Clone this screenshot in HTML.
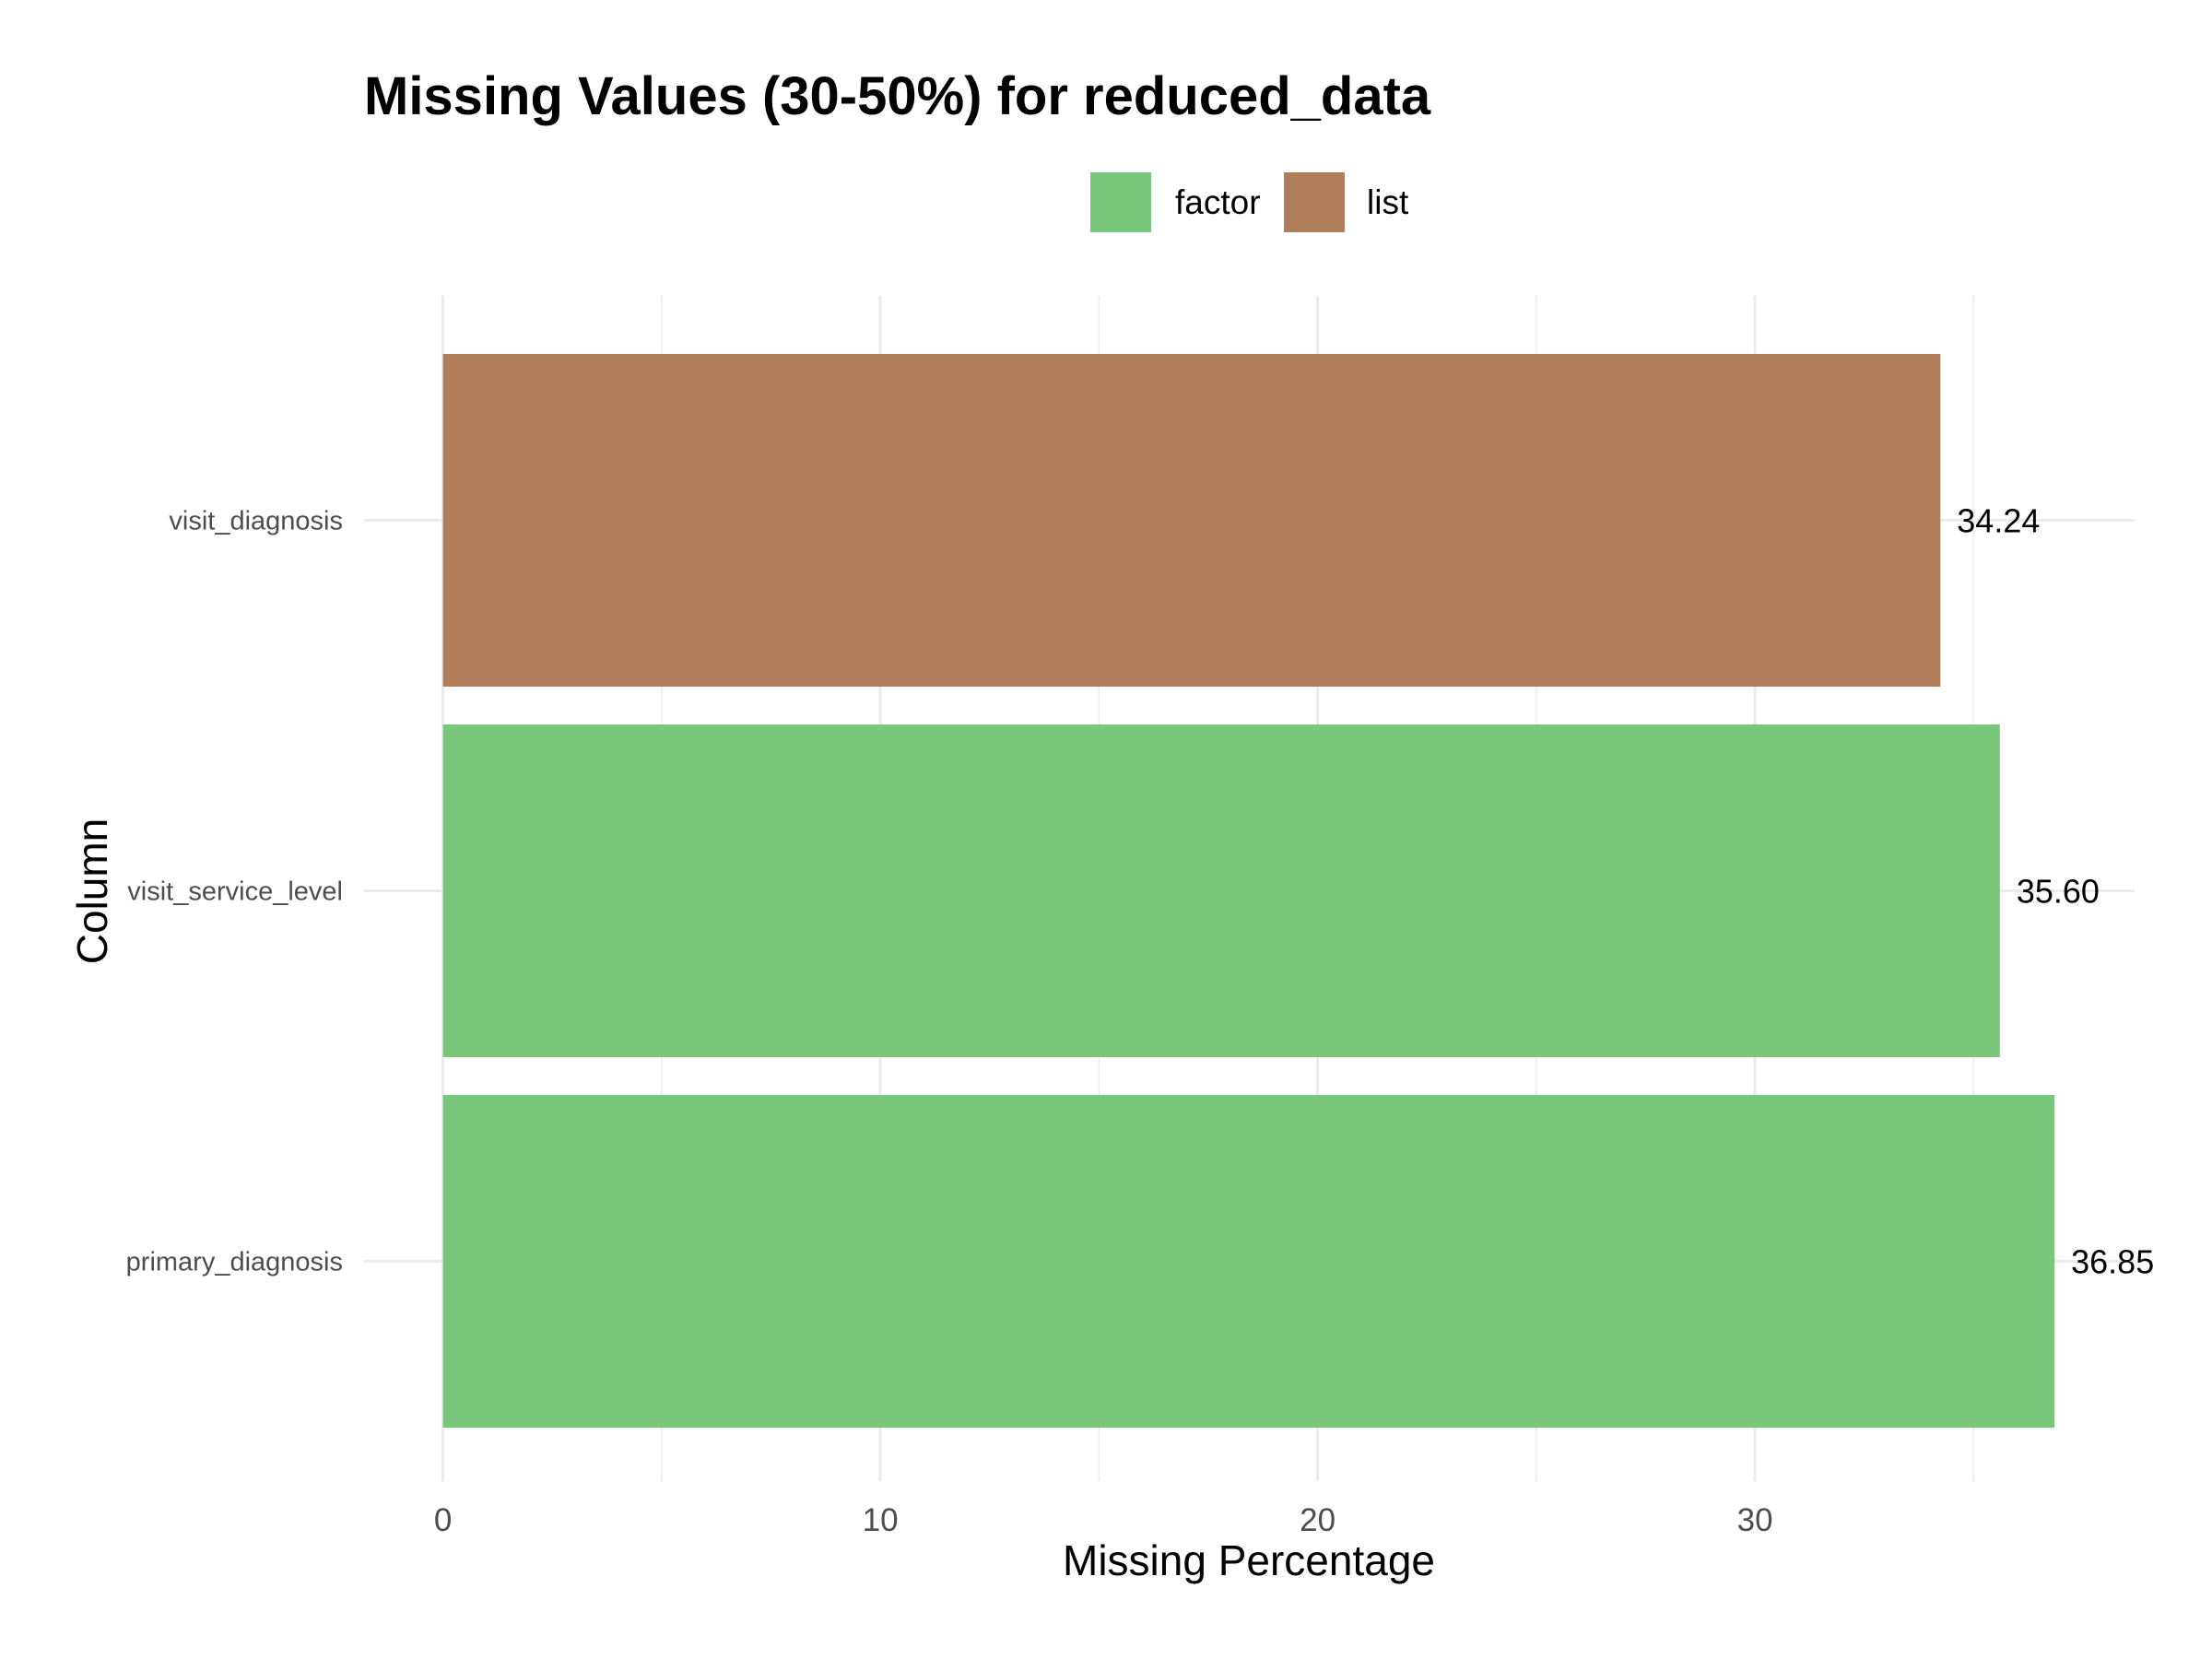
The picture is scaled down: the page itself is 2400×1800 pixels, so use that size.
<!DOCTYPE html>
<html><head><meta charset="utf-8"><style>
body{margin:0;background:#fff}
svg{display:block;font-family:"Liberation Sans",Arial,sans-serif}
</style></head><body>
<svg id="chart" width="2400" height="1800" viewBox="0 0 2400 1800">
<text x="395" y="124" font-size="58" font-weight="bold" fill="#000">Missing Values (30-50%) for reduced_data</text>
<g>
<rect x="1183" y="187" width="66" height="65" fill="#78C77B"/>
<text x="1275" y="232" font-size="37" fill="#000">factor</text>
<rect x="1393" y="187" width="66" height="65" fill="#B07D5A"/>
<text x="1483" y="232" font-size="37" fill="#000">list</text>
</g>
<g id="grid"></g><g id="bars"></g><g id="labels"></g>
<text x="1355" y="1709" font-size="46" text-anchor="middle" fill="#000">Missing Percentage</text>
<text transform="translate(116,967) rotate(-90)" font-size="46" text-anchor="middle" fill="#000">Column</text>
</svg>
<script>
const categories=["visit_diagnosis","visit_service_level","primary_diagnosis"];
const values=[34.24,35.60,36.85];
const types=["list","factor","factor"];
const xTicks=[0,10,20,30];
const xMinor=[5,15,25,35];
const ns="http://www.w3.org/2000/svg";
const x0=480.6, pxPer=47.45, panelTop=321, panelBot=1607, panelL=395, panelR=2316;
const xs=v=>x0+v*pxPer;
const bandTop=384, bandStep=402, barH=361;
const colors={factor:"#78C77B",list:"#B07D5A"};
function mk(tag,attrs,parent){const e=document.createElementNS(ns,tag);for(const k in attrs)e.setAttribute(k,attrs[k]);document.getElementById(parent).appendChild(e);return e;}
xMinor.forEach(v=>{const l=mk("line",{x1:xs(v),x2:xs(v),y1:panelTop,y2:panelBot,stroke:"#ebebeb","stroke-width":1.5},"grid");

});
xTicks.forEach(v=>{const l=mk("line",{x1:xs(v),x2:xs(v),y1:panelTop,y2:panelBot,stroke:"#ebebeb","stroke-width":3},"grid");


const t=mk("text",{x:xs(v),y:1661,"font-size":35,"text-anchor":"middle",fill:"#4d4d4d"},"labels");t.textContent=v;

});
categories.forEach((c,i)=>{const top=bandTop+i*bandStep, cy=top+barH/2;
const g=mk("line",{x1:panelL,x2:panelR,y1:cy,y2:cy,stroke:"#ebebeb","stroke-width":3},"grid");


const r=mk("rect",{x:xs(0),y:top,width:xs(values[i])-xs(0),height:barH,fill:colors[types[i]]},"bars");


const t=mk("text",{x:372,y:cy+10,"font-size":29,"text-anchor":"end",fill:"#4d4d4d"},"labels");t.textContent=c;


const v=mk("text",{x:xs(values[i])+18,y:cy+13,"font-size":36,fill:"#000"},"labels");v.textContent=values[i].toFixed(2);

});
</script>
</body></html>
